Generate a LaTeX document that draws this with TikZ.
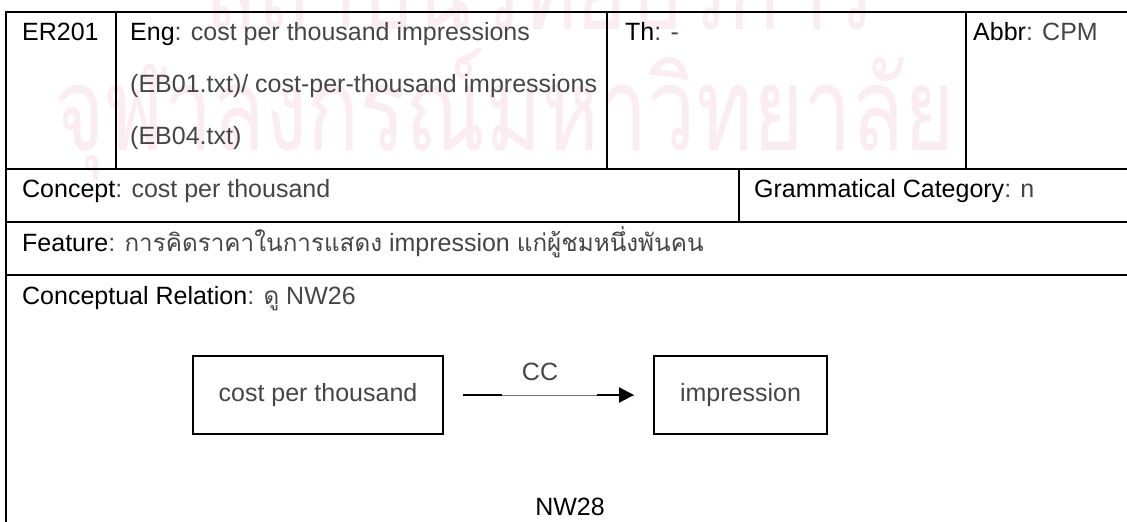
\documentclass[tikz,border=0pt]{standalone}
\usepackage{fontspec}
\usepackage{graphicx}
\setmainfont{Liberation Sans}
\newfontfamily\thaifont[Script=Thai,Scale=0.97]{Loma}
\newfontfamily\wmfont[Script=Thai]{Loma}
\usetikzlibrary{arrows.meta,calc}
\definecolor{wmpink}{RGB}{251,236,242}
\definecolor{valgray}{RGB}{70,70,70}
\newcommand\txt{\fontsize{25}{30}\selectfont}
\newcommand\lb[1]{{\color{black}#1}}
\newlength\wmw
\newsavebox\wmbox
\begin{document}
\sbox\wmbox{\wmfont\fontsize{100}{100}\selectfont จุฬาลงกรณ์มหาวิทยาลัย}%
\setlength\wmw{\wd\wmbox}%
\pgfmathsetmacro\wmk{900/\wmw}%
\pgfmathsetmacro\wmv{1.35*\wmk}%
\begin{tikzpicture}[x=1pt,y=-1pt,
  rule/.style={line width=2.4pt},
  cell/.style={anchor=mid west, inner sep=0pt, font=\txt, text=valgray},
  cbox/.style={draw, line width=2pt, minimum height=78pt, inner sep=0pt, font=\txt, text=valgray},
  wm/.style={anchor=base, inner sep=0pt, text=wmpink}]
\useasboundingbox (0,0) rectangle (1127,522);
\clip (0,0) rectangle (1127,522);
\fill[white] (0,0) rectangle (1127,522);

% watermark behind the table
\node[wm] (wmtop) at (540,30) {\scalebox{\wmk}[\wmv]{\wmfont\fontsize{100}{100}\selectfont สถาบันวิทยบริการ}};
\node[wm] (wmbot) at (505,150) {\scalebox{\wmk}[\wmv]{\wmfont\fontsize{100}{100}\selectfont จุฬาลงกรณ์มหาวิทยาลัย}};

% table rules (open on the right)
\draw[rule] (1140,12) -- (6,12) -- (6,530);
\draw[rule] (116,12) -- (116,169);
\draw[rule] (607,12) -- (607,169);
\draw[rule] (966,12) -- (966,169);
\draw[rule] (6,169) -- (1140,169);
\draw[rule] (739,169) -- (739,222);
\draw[rule] (6,222) -- (1140,222);
\draw[rule] (6,275) -- (1140,275);

% first row
\node[cell, text=black] (id) at (22,38) {ER201};
\node[cell] (eng1) at (130,38) {\lb{Eng}: cost per thousand impressions};
\node[cell] (eng2) at (130,90) {(EB01.txt)/ cost-per-thousand impressions};
\node[cell] (eng3) at (130,142) {(EB04.txt)};
\node[cell] (th) at (625,38) {\lb{Th}: -};
\node[cell] (abbr) at (973,38) {\lb{Abbr}: CPM};

% concept, feature and relation rows
\node[cell] (concept) at (22,195) {\lb{Concept}: cost per thousand};
\node[cell] (gram) at (754,195) {\lb{Grammatical Category}: n};
\node[cell] (feature) at (22,249) {\lb{Feature}: {\thaifont การคิดราคาในการแสดง} impression {\thaifont แก่ผู้ชมหนึ่งพันคน}};
\node[cell] (rel) at (22,302) {\lb{Conceptual Relation}: {\thaifont ดู} NW26};

% concept diagram
\node[cbox, minimum width=250pt] (cpt) at (318,395) {cost per thousand};
\node[cbox, minimum width=173pt] (imp) at (740.5,395) {impression};
\draw[line width=0.7pt, black!55] ([xshift=19pt]cpt.east) -- ([xshift=-19pt]imp.west);
\draw[line width=2.2pt] ([xshift=19pt]cpt.east) -- ([xshift=58pt]cpt.east);
\draw[line width=2.2pt, -{Triangle[length=15pt,width=15pt]}] ([xshift=-56pt]imp.west) -- ([xshift=-19pt]imp.west);
\node[font=\txt, text=valgray, inner sep=0pt] (cc) at (540,372) {CC};
\node[font=\txt, text=black, inner sep=0pt] (nw) at (570,507) {NW28};
\end{tikzpicture}
\end{document}
